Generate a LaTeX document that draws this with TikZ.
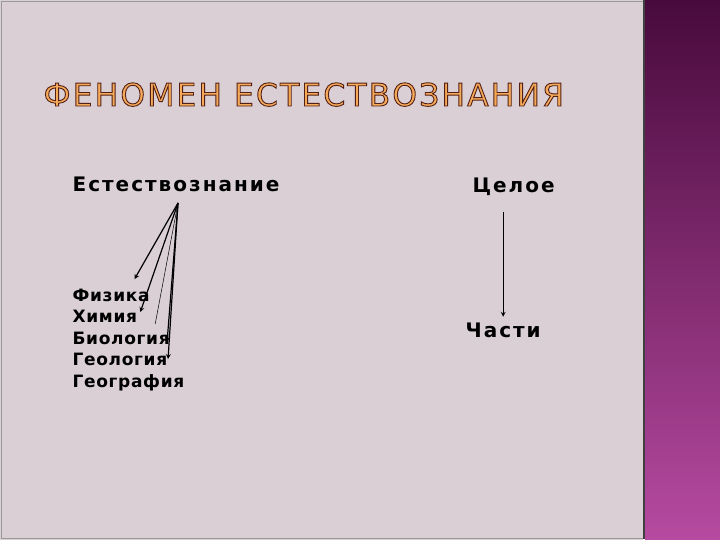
\documentclass[tikz,border=0pt]{standalone}
\usepackage{fontspec}
\setmainfont{DejaVu Sans}
\newfontfamily\headfont[LetterSpace=7]{DejaVu Sans}
\newfontfamily\wordfont[LetterSpace=10]{DejaVu Sans}
\newfontfamily\listfont[LetterSpace=4]{DejaVu Sans}
\usepackage[dvipsnames]{xcolor}
\definecolor{panel}{RGB}{217,207,212}
\definecolor{stripTop}{RGB}{72,10,60}
\definecolor{stripBot}{RGB}{182,74,160}
\definecolor{titleFill}{RGB}{245,170,90}
\newcommand{\outlined}[1]{\special{pdf:code q 2 Tr 0.9 w 0.33 0.12 0.08 RG}#1\special{pdf:code 0 Tr Q}}

\begin{document}
\begin{tikzpicture}[x=1pt,y=-1pt,->,>=stealth,shorten >=1pt,line width=1.2pt,
    word node/.style={anchor=base west,inner sep=0pt,font=\wordfont\bfseries\fontsize{20}{22}\selectfont},
    list node/.style={anchor=base west,inner sep=0pt,font=\listfont\bfseries\fontsize{17}{19}\selectfont}]
                \useasboundingbox (0,0) rectangle (720,540);
                \fill[panel] (0,0) rectangle (643,540);
                \draw[-,gray!80,line width=0.8pt] (1.5,1.5) rectangle (643,538.5);
                \shade[top color=stripTop,bottom color=stripBot] (645,0) rectangle (720,540);
                \draw[-,black!75,line width=2pt] (644,0) -- (644,540);

                \node[anchor=base west,inner sep=0pt,text=titleFill,font=\headfont\fontsize{31.3}{34}\selectfont] (0) at (43,106) {\outlined{ФЕНОМЕН ЕСТЕСТВОЗНАНИЯ}};

                \node[word node] (1) at (72,192) {Естествознание};
                \node[word node] (2) at (472,193) {Целое};
                \node[word node] (3) at (465,337) {Части};

                \node[list node] (4) at (72,301) {Физика};
                \node[list node] (5) at (72,322.5) {Химия};
                \node[list node] (6) at (72,344) {Биология};
                \node[list node] (7) at (72,365.5) {Геология};
                \node[list node] (8) at (72,387) {География};

                \coordinate (o) at (178,203);
                \coordinate (e4) at (134,280);
                \coordinate (e5) at (140,313);
                \coordinate (e6) at (155,325);
                \coordinate (e7) at (167,343);
                \coordinate (e8) at (168,360);

                \path
                    (o) edge (e4)
                    (o) edge (e5)
                    (o) edge[-,line width=0.5pt] (e6)
                    (o) edge (e7)
                    (o) edge (e8)
                    ([yshift=-15pt]2.south -| 3.north) edge ([yshift=4pt]3.north)
                ;
            \end{tikzpicture}
\end{document}
